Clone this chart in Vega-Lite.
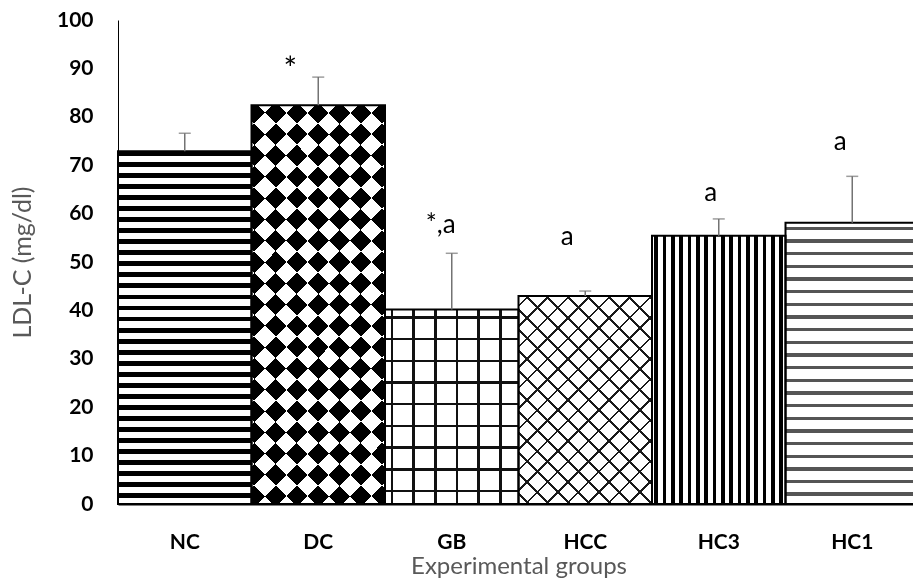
{
  "$schema": "https://vega.github.io/schema/vega-lite/v6.json",
  "width": 795,
  "height": 484,
  "autosize": {"type": "none"},
  "padding": {"left": 118, "top": 20, "right": 0, "bottom": 75},
  "background": "white",
  "config": {"view": {"stroke": null}, "font": "Lato"},
  "data": {"values": [
    {"group": "NC", "value": 72.9, "err": 76.6, "label": ""},
    {"group": "DC", "value": 82.4, "err": 88.2, "label": "*"},
    {"group": "GB", "value": 40.2, "err": 51.8, "label": "*,a"},
    {"group": "HCC", "value": 43.0, "err": 44.0, "label": "a"},
    {"group": "HC3", "value": 55.4, "err": 58.9, "label": "a"},
    {"group": "HC1", "value": 58.1, "err": 67.7, "label": "a"}
  ]},
  "encoding": {
    "x": {
      "field": "group", "type": "nominal", "sort": null,
      "scale": {"paddingInner": 0, "paddingOuter": 0, "range": [0, 801]},
      "axis": {
        "title": "Experimental groups", "titleFont": "Lato", "titleFontSize": 24, "titleFontWeight": "normal",
        "titleColor": "#595959", "titleY": 69, "titleBaseline": "alphabetic",
        "labelFont": "Lato", "labelFontSize": 21, "labelFontWeight": "bold", "labelColor": "#000",
        "labelAngle": 0, "labelBaseline": "alphabetic", "labelPadding": 44,
        "ticks": false, "domain": true, "domainColor": "#000", "domainWidth": 2, "grid": false
      }
    },
    "y": {
      "field": "value", "type": "quantitative",
      "scale": {"domain": [0, 100]},
      "axis": {
        "title": "LDL-C (mg/dl)", "titleFont": "Lato", "titleFontSize": 25, "titleFontWeight": "normal",
        "titleColor": "#595959", "titleX": -83,
        "values": [0, 10, 20, 30, 40, 50, 60, 70, 80, 90, 100],
        "labelFont": "Lato", "labelFontSize": 21, "labelFontWeight": "bold", "labelColor": "#000",
        "labelPadding": 25, "ticks": false, "grid": false, "domain": true, "domainColor": "#000", "domainWidth": 1
      }
    }
  },
  "layer": [
    {
      "transform": [{"filter": "datum.group == 'NC'"}],
      "mark": {"type": "bar", "fill": {"gradient": "linear", "x1": 0, "y1": 0, "x2": 0, "y2": 1, "stops": [
        {"offset": 0, "color": "#000"}, {"offset": 0.014, "color": "#000"}, {"offset": 0.014, "color": "#fff"}, {"offset": 0.03125, "color": "#fff"},
        {"offset": 0.03125, "color": "#000"}, {"offset": 0.04525, "color": "#000"}, {"offset": 0.04525, "color": "#fff"}, {"offset": 0.0625, "color": "#fff"},
        {"offset": 0.0625, "color": "#000"}, {"offset": 0.0765, "color": "#000"}, {"offset": 0.0765, "color": "#fff"}, {"offset": 0.09375, "color": "#fff"},
        {"offset": 0.09375, "color": "#000"}, {"offset": 0.10775, "color": "#000"}, {"offset": 0.10775, "color": "#fff"}, {"offset": 0.125, "color": "#fff"},
        {"offset": 0.125, "color": "#000"}, {"offset": 0.139, "color": "#000"}, {"offset": 0.139, "color": "#fff"}, {"offset": 0.15625, "color": "#fff"},
        {"offset": 0.15625, "color": "#000"}, {"offset": 0.17025, "color": "#000"}, {"offset": 0.17025, "color": "#fff"}, {"offset": 0.1875, "color": "#fff"},
        {"offset": 0.1875, "color": "#000"}, {"offset": 0.2015, "color": "#000"}, {"offset": 0.2015, "color": "#fff"}, {"offset": 0.21875, "color": "#fff"},
        {"offset": 0.21875, "color": "#000"}, {"offset": 0.23275, "color": "#000"}, {"offset": 0.23275, "color": "#fff"}, {"offset": 0.25, "color": "#fff"},
        {"offset": 0.25, "color": "#000"}, {"offset": 0.264, "color": "#000"}, {"offset": 0.264, "color": "#fff"}, {"offset": 0.28125, "color": "#fff"},
        {"offset": 0.28125, "color": "#000"}, {"offset": 0.29525, "color": "#000"}, {"offset": 0.29525, "color": "#fff"}, {"offset": 0.3125, "color": "#fff"},
        {"offset": 0.3125, "color": "#000"}, {"offset": 0.3265, "color": "#000"}, {"offset": 0.3265, "color": "#fff"}, {"offset": 0.34375, "color": "#fff"},
        {"offset": 0.34375, "color": "#000"}, {"offset": 0.35775, "color": "#000"}, {"offset": 0.35775, "color": "#fff"}, {"offset": 0.375, "color": "#fff"},
        {"offset": 0.375, "color": "#000"}, {"offset": 0.389, "color": "#000"}, {"offset": 0.389, "color": "#fff"}, {"offset": 0.40625, "color": "#fff"},
        {"offset": 0.40625, "color": "#000"}, {"offset": 0.42025, "color": "#000"}, {"offset": 0.42025, "color": "#fff"}, {"offset": 0.4375, "color": "#fff"},
        {"offset": 0.4375, "color": "#000"}, {"offset": 0.4515, "color": "#000"}, {"offset": 0.4515, "color": "#fff"}, {"offset": 0.46875, "color": "#fff"},
        {"offset": 0.46875, "color": "#000"}, {"offset": 0.48275, "color": "#000"}, {"offset": 0.48275, "color": "#fff"}, {"offset": 0.5, "color": "#fff"},
        {"offset": 0.5, "color": "#000"}, {"offset": 0.514, "color": "#000"}, {"offset": 0.514, "color": "#fff"}, {"offset": 0.53125, "color": "#fff"},
        {"offset": 0.53125, "color": "#000"}, {"offset": 0.54525, "color": "#000"}, {"offset": 0.54525, "color": "#fff"}, {"offset": 0.5625, "color": "#fff"},
        {"offset": 0.5625, "color": "#000"}, {"offset": 0.5765, "color": "#000"}, {"offset": 0.5765, "color": "#fff"}, {"offset": 0.59375, "color": "#fff"},
        {"offset": 0.59375, "color": "#000"}, {"offset": 0.60775, "color": "#000"}, {"offset": 0.60775, "color": "#fff"}, {"offset": 0.625, "color": "#fff"},
        {"offset": 0.625, "color": "#000"}, {"offset": 0.639, "color": "#000"}, {"offset": 0.639, "color": "#fff"}, {"offset": 0.65625, "color": "#fff"},
        {"offset": 0.65625, "color": "#000"}, {"offset": 0.67025, "color": "#000"}, {"offset": 0.67025, "color": "#fff"}, {"offset": 0.6875, "color": "#fff"},
        {"offset": 0.6875, "color": "#000"}, {"offset": 0.7015, "color": "#000"}, {"offset": 0.7015, "color": "#fff"}, {"offset": 0.71875, "color": "#fff"},
        {"offset": 0.71875, "color": "#000"}, {"offset": 0.73275, "color": "#000"}, {"offset": 0.73275, "color": "#fff"}, {"offset": 0.75, "color": "#fff"},
        {"offset": 0.75, "color": "#000"}, {"offset": 0.764, "color": "#000"}, {"offset": 0.764, "color": "#fff"}, {"offset": 0.78125, "color": "#fff"},
        {"offset": 0.78125, "color": "#000"}, {"offset": 0.79525, "color": "#000"}, {"offset": 0.79525, "color": "#fff"}, {"offset": 0.8125, "color": "#fff"},
        {"offset": 0.8125, "color": "#000"}, {"offset": 0.8265, "color": "#000"}, {"offset": 0.8265, "color": "#fff"}, {"offset": 0.84375, "color": "#fff"},
        {"offset": 0.84375, "color": "#000"}, {"offset": 0.85775, "color": "#000"}, {"offset": 0.85775, "color": "#fff"}, {"offset": 0.875, "color": "#fff"},
        {"offset": 0.875, "color": "#000"}, {"offset": 0.889, "color": "#000"}, {"offset": 0.889, "color": "#fff"}, {"offset": 0.90625, "color": "#fff"},
        {"offset": 0.90625, "color": "#000"}, {"offset": 0.92025, "color": "#000"}, {"offset": 0.92025, "color": "#fff"}, {"offset": 0.9375, "color": "#fff"},
        {"offset": 0.9375, "color": "#000"}, {"offset": 0.9515, "color": "#000"}, {"offset": 0.9515, "color": "#fff"}, {"offset": 0.96875, "color": "#fff"},
        {"offset": 0.96875, "color": "#000"}, {"offset": 0.98275, "color": "#000"}, {"offset": 0.98275, "color": "#fff"}, {"offset": 1, "color": "#fff"}
      ]}}
    },
    {
      "transform": [{"filter": "datum.group == 'DC'"}],
      "mark": {"type": "bar", "fill": {"gradient": "linear", "x1": 0, "y1": 0, "x2": 0.402, "y2": 1.2, "stops": [
        {"offset": 0, "color": "#000"}, {"offset": 0.04, "color": "#000"}, {"offset": 0.04, "color": "#fff"}, {"offset": 0.08, "color": "#fff"},
        {"offset": 0.08, "color": "#000"}, {"offset": 0.12, "color": "#000"}, {"offset": 0.12, "color": "#fff"}, {"offset": 0.16, "color": "#fff"},
        {"offset": 0.16, "color": "#000"}, {"offset": 0.2, "color": "#000"}, {"offset": 0.2, "color": "#fff"}, {"offset": 0.24, "color": "#fff"},
        {"offset": 0.24, "color": "#000"}, {"offset": 0.28, "color": "#000"}, {"offset": 0.28, "color": "#fff"}, {"offset": 0.32, "color": "#fff"},
        {"offset": 0.32, "color": "#000"}, {"offset": 0.36, "color": "#000"}, {"offset": 0.36, "color": "#fff"}, {"offset": 0.4, "color": "#fff"},
        {"offset": 0.4, "color": "#000"}, {"offset": 0.44, "color": "#000"}, {"offset": 0.44, "color": "#fff"}, {"offset": 0.48, "color": "#fff"},
        {"offset": 0.48, "color": "#000"}, {"offset": 0.52, "color": "#000"}, {"offset": 0.52, "color": "#fff"}, {"offset": 0.56, "color": "#fff"},
        {"offset": 0.56, "color": "#000"}, {"offset": 0.6, "color": "#000"}, {"offset": 0.6, "color": "#fff"}, {"offset": 0.64, "color": "#fff"},
        {"offset": 0.64, "color": "#000"}, {"offset": 0.68, "color": "#000"}, {"offset": 0.68, "color": "#fff"}, {"offset": 0.72, "color": "#fff"},
        {"offset": 0.72, "color": "#000"}, {"offset": 0.76, "color": "#000"}, {"offset": 0.76, "color": "#fff"}, {"offset": 0.8, "color": "#fff"},
        {"offset": 0.8, "color": "#000"}, {"offset": 0.84, "color": "#000"}, {"offset": 0.84, "color": "#fff"}, {"offset": 0.88, "color": "#fff"},
        {"offset": 0.88, "color": "#000"}, {"offset": 0.92, "color": "#000"}, {"offset": 0.92, "color": "#fff"}, {"offset": 0.96, "color": "#fff"},
        {"offset": 0.96, "color": "#000"}, {"offset": 1, "color": "#000"}
      ]}}
    },
    {
      "transform": [{"filter": "datum.group == 'DC'"}],
      "mark": {"type": "bar", "blend": "difference", "fill": {"gradient": "linear", "x1": 0, "y1": 1, "x2": 0.402, "y2": -0.2, "stops": [
        {"offset": 0, "color": "#000"}, {"offset": 0.04, "color": "#000"}, {"offset": 0.04, "color": "#fff"}, {"offset": 0.08, "color": "#fff"},
        {"offset": 0.08, "color": "#000"}, {"offset": 0.12, "color": "#000"}, {"offset": 0.12, "color": "#fff"}, {"offset": 0.16, "color": "#fff"},
        {"offset": 0.16, "color": "#000"}, {"offset": 0.2, "color": "#000"}, {"offset": 0.2, "color": "#fff"}, {"offset": 0.24, "color": "#fff"},
        {"offset": 0.24, "color": "#000"}, {"offset": 0.28, "color": "#000"}, {"offset": 0.28, "color": "#fff"}, {"offset": 0.32, "color": "#fff"},
        {"offset": 0.32, "color": "#000"}, {"offset": 0.36, "color": "#000"}, {"offset": 0.36, "color": "#fff"}, {"offset": 0.4, "color": "#fff"},
        {"offset": 0.4, "color": "#000"}, {"offset": 0.44, "color": "#000"}, {"offset": 0.44, "color": "#fff"}, {"offset": 0.48, "color": "#fff"},
        {"offset": 0.48, "color": "#000"}, {"offset": 0.52, "color": "#000"}, {"offset": 0.52, "color": "#fff"}, {"offset": 0.56, "color": "#fff"},
        {"offset": 0.56, "color": "#000"}, {"offset": 0.6, "color": "#000"}, {"offset": 0.6, "color": "#fff"}, {"offset": 0.64, "color": "#fff"},
        {"offset": 0.64, "color": "#000"}, {"offset": 0.68, "color": "#000"}, {"offset": 0.68, "color": "#fff"}, {"offset": 0.72, "color": "#fff"},
        {"offset": 0.72, "color": "#000"}, {"offset": 0.76, "color": "#000"}, {"offset": 0.76, "color": "#fff"}, {"offset": 0.8, "color": "#fff"},
        {"offset": 0.8, "color": "#000"}, {"offset": 0.84, "color": "#000"}, {"offset": 0.84, "color": "#fff"}, {"offset": 0.88, "color": "#fff"},
        {"offset": 0.88, "color": "#000"}, {"offset": 0.92, "color": "#000"}, {"offset": 0.92, "color": "#fff"}, {"offset": 0.96, "color": "#fff"},
        {"offset": 0.96, "color": "#000"}, {"offset": 1, "color": "#000"}
      ]}}
    },
    {
      "transform": [{"filter": "datum.group == 'GB'"}],
      "mark": {"type": "bar", "fill": {"gradient": "linear", "x1": 0, "y1": 0, "x2": 1, "y2": 0, "stops": [
        {"offset": 0, "color": "#fff"}, {"offset": 0.0425, "color": "#fff"}, {"offset": 0.0425, "color": "#111"}, {"offset": 0.0615, "color": "#111"}, {"offset": 0.0615, "color": "#fff"},
        {"offset": 0.205, "color": "#fff"}, {"offset": 0.205, "color": "#111"}, {"offset": 0.224, "color": "#111"}, {"offset": 0.224, "color": "#fff"},
        {"offset": 0.3675, "color": "#fff"}, {"offset": 0.3675, "color": "#111"}, {"offset": 0.3865, "color": "#111"}, {"offset": 0.3865, "color": "#fff"},
        {"offset": 0.53, "color": "#fff"}, {"offset": 0.53, "color": "#111"}, {"offset": 0.549, "color": "#111"}, {"offset": 0.549, "color": "#fff"},
        {"offset": 0.6925, "color": "#fff"}, {"offset": 0.6925, "color": "#111"}, {"offset": 0.7115, "color": "#111"}, {"offset": 0.7115, "color": "#fff"},
        {"offset": 0.855, "color": "#fff"}, {"offset": 0.855, "color": "#111"}, {"offset": 0.874, "color": "#111"}, {"offset": 0.874, "color": "#fff"},
        {"offset": 1, "color": "#fff"}
      ]}}
    },
    {
      "transform": [{"filter": "datum.group == 'GB'"}],
      "mark": {"type": "bar", "fill": {"gradient": "linear", "x1": 0, "y1": 0, "x2": 0, "y2": 1, "stops": [
        {"offset": 0, "color": "rgba(0,0,0,0)"}, {"offset": 0.0347, "color": "rgba(0,0,0,0)"}, {"offset": 0.0347, "color": "#111"}, {"offset": 0.0475, "color": "#111"}, {"offset": 0.0475, "color": "rgba(0,0,0,0)"},
        {"offset": 0.1462, "color": "rgba(0,0,0,0)"}, {"offset": 0.1462, "color": "#111"}, {"offset": 0.159, "color": "#111"}, {"offset": 0.159, "color": "rgba(0,0,0,0)"},
        {"offset": 0.2577, "color": "rgba(0,0,0,0)"}, {"offset": 0.2577, "color": "#111"}, {"offset": 0.2705, "color": "#111"}, {"offset": 0.2705, "color": "rgba(0,0,0,0)"},
        {"offset": 0.3692, "color": "rgba(0,0,0,0)"}, {"offset": 0.3692, "color": "#111"}, {"offset": 0.382, "color": "#111"}, {"offset": 0.382, "color": "rgba(0,0,0,0)"},
        {"offset": 0.4807, "color": "rgba(0,0,0,0)"}, {"offset": 0.4807, "color": "#111"}, {"offset": 0.4935, "color": "#111"}, {"offset": 0.4935, "color": "rgba(0,0,0,0)"},
        {"offset": 0.5923, "color": "rgba(0,0,0,0)"}, {"offset": 0.5923, "color": "#111"}, {"offset": 0.6051, "color": "#111"}, {"offset": 0.6051, "color": "rgba(0,0,0,0)"},
        {"offset": 0.7038, "color": "rgba(0,0,0,0)"}, {"offset": 0.7038, "color": "#111"}, {"offset": 0.7166, "color": "#111"}, {"offset": 0.7166, "color": "rgba(0,0,0,0)"},
        {"offset": 0.8153, "color": "rgba(0,0,0,0)"}, {"offset": 0.8153, "color": "#111"}, {"offset": 0.8281, "color": "#111"}, {"offset": 0.8281, "color": "rgba(0,0,0,0)"},
        {"offset": 0.9268, "color": "rgba(0,0,0,0)"}, {"offset": 0.9268, "color": "#111"}, {"offset": 0.9396, "color": "#111"}, {"offset": 0.9396, "color": "rgba(0,0,0,0)"},
        {"offset": 1, "color": "rgba(0,0,0,0)"}
      ]}}
    },
    {
      "transform": [{"filter": "datum.group == 'HCC'"}],
      "mark": {"type": "bar", "fill": {"gradient": "linear", "x1": 0, "y1": 0, "x2": 0.746, "y2": 1.163, "stops": [
        {"offset": 0, "color": "#fff"},
        {"offset": 0.026, "color": "#fff"}, {"offset": 0.026, "color": "#1a1a1a"}, {"offset": 0.034, "color": "#1a1a1a"}, {"offset": 0.034, "color": "#fff"},
        {"offset": 0.086, "color": "#fff"}, {"offset": 0.086, "color": "#1a1a1a"}, {"offset": 0.094, "color": "#1a1a1a"}, {"offset": 0.094, "color": "#fff"},
        {"offset": 0.146, "color": "#fff"}, {"offset": 0.146, "color": "#1a1a1a"}, {"offset": 0.154, "color": "#1a1a1a"}, {"offset": 0.154, "color": "#fff"},
        {"offset": 0.206, "color": "#fff"}, {"offset": 0.206, "color": "#1a1a1a"}, {"offset": 0.214, "color": "#1a1a1a"}, {"offset": 0.214, "color": "#fff"},
        {"offset": 0.266, "color": "#fff"}, {"offset": 0.266, "color": "#1a1a1a"}, {"offset": 0.274, "color": "#1a1a1a"}, {"offset": 0.274, "color": "#fff"},
        {"offset": 0.326, "color": "#fff"}, {"offset": 0.326, "color": "#1a1a1a"}, {"offset": 0.334, "color": "#1a1a1a"}, {"offset": 0.334, "color": "#fff"},
        {"offset": 0.386, "color": "#fff"}, {"offset": 0.386, "color": "#1a1a1a"}, {"offset": 0.394, "color": "#1a1a1a"}, {"offset": 0.394, "color": "#fff"},
        {"offset": 0.446, "color": "#fff"}, {"offset": 0.446, "color": "#1a1a1a"}, {"offset": 0.454, "color": "#1a1a1a"}, {"offset": 0.454, "color": "#fff"},
        {"offset": 0.506, "color": "#fff"}, {"offset": 0.506, "color": "#1a1a1a"}, {"offset": 0.514, "color": "#1a1a1a"}, {"offset": 0.514, "color": "#fff"},
        {"offset": 0.566, "color": "#fff"}, {"offset": 0.566, "color": "#1a1a1a"}, {"offset": 0.574, "color": "#1a1a1a"}, {"offset": 0.574, "color": "#fff"},
        {"offset": 0.626, "color": "#fff"}, {"offset": 0.626, "color": "#1a1a1a"}, {"offset": 0.634, "color": "#1a1a1a"}, {"offset": 0.634, "color": "#fff"},
        {"offset": 0.686, "color": "#fff"}, {"offset": 0.686, "color": "#1a1a1a"}, {"offset": 0.694, "color": "#1a1a1a"}, {"offset": 0.694, "color": "#fff"},
        {"offset": 0.746, "color": "#fff"}, {"offset": 0.746, "color": "#1a1a1a"}, {"offset": 0.754, "color": "#1a1a1a"}, {"offset": 0.754, "color": "#fff"},
        {"offset": 0.806, "color": "#fff"}, {"offset": 0.806, "color": "#1a1a1a"}, {"offset": 0.814, "color": "#1a1a1a"}, {"offset": 0.814, "color": "#fff"},
        {"offset": 0.866, "color": "#fff"}, {"offset": 0.866, "color": "#1a1a1a"}, {"offset": 0.874, "color": "#1a1a1a"}, {"offset": 0.874, "color": "#fff"},
        {"offset": 0.926, "color": "#fff"}, {"offset": 0.926, "color": "#1a1a1a"}, {"offset": 0.934, "color": "#1a1a1a"}, {"offset": 0.934, "color": "#fff"},
        {"offset": 0.986, "color": "#fff"}, {"offset": 0.986, "color": "#1a1a1a"}, {"offset": 0.994, "color": "#1a1a1a"}, {"offset": 0.994, "color": "#fff"},
        {"offset": 1, "color": "#fff"}
      ]}}
    },
    {
      "transform": [{"filter": "datum.group == 'HCC'"}],
      "mark": {"type": "bar", "fill": {"gradient": "linear", "x1": 0, "y1": 1, "x2": 0.746, "y2": -0.163, "stops": [
        {"offset": 0, "color": "rgba(0,0,0,0)"},
        {"offset": 0.026, "color": "rgba(0,0,0,0)"}, {"offset": 0.026, "color": "#1a1a1a"}, {"offset": 0.034, "color": "#1a1a1a"}, {"offset": 0.034, "color": "rgba(0,0,0,0)"},
        {"offset": 0.086, "color": "rgba(0,0,0,0)"}, {"offset": 0.086, "color": "#1a1a1a"}, {"offset": 0.094, "color": "#1a1a1a"}, {"offset": 0.094, "color": "rgba(0,0,0,0)"},
        {"offset": 0.146, "color": "rgba(0,0,0,0)"}, {"offset": 0.146, "color": "#1a1a1a"}, {"offset": 0.154, "color": "#1a1a1a"}, {"offset": 0.154, "color": "rgba(0,0,0,0)"},
        {"offset": 0.206, "color": "rgba(0,0,0,0)"}, {"offset": 0.206, "color": "#1a1a1a"}, {"offset": 0.214, "color": "#1a1a1a"}, {"offset": 0.214, "color": "rgba(0,0,0,0)"},
        {"offset": 0.266, "color": "rgba(0,0,0,0)"}, {"offset": 0.266, "color": "#1a1a1a"}, {"offset": 0.274, "color": "#1a1a1a"}, {"offset": 0.274, "color": "rgba(0,0,0,0)"},
        {"offset": 0.326, "color": "rgba(0,0,0,0)"}, {"offset": 0.326, "color": "#1a1a1a"}, {"offset": 0.334, "color": "#1a1a1a"}, {"offset": 0.334, "color": "rgba(0,0,0,0)"},
        {"offset": 0.386, "color": "rgba(0,0,0,0)"}, {"offset": 0.386, "color": "#1a1a1a"}, {"offset": 0.394, "color": "#1a1a1a"}, {"offset": 0.394, "color": "rgba(0,0,0,0)"},
        {"offset": 0.446, "color": "rgba(0,0,0,0)"}, {"offset": 0.446, "color": "#1a1a1a"}, {"offset": 0.454, "color": "#1a1a1a"}, {"offset": 0.454, "color": "rgba(0,0,0,0)"},
        {"offset": 0.506, "color": "rgba(0,0,0,0)"}, {"offset": 0.506, "color": "#1a1a1a"}, {"offset": 0.514, "color": "#1a1a1a"}, {"offset": 0.514, "color": "rgba(0,0,0,0)"},
        {"offset": 0.566, "color": "rgba(0,0,0,0)"}, {"offset": 0.566, "color": "#1a1a1a"}, {"offset": 0.574, "color": "#1a1a1a"}, {"offset": 0.574, "color": "rgba(0,0,0,0)"},
        {"offset": 0.626, "color": "rgba(0,0,0,0)"}, {"offset": 0.626, "color": "#1a1a1a"}, {"offset": 0.634, "color": "#1a1a1a"}, {"offset": 0.634, "color": "rgba(0,0,0,0)"},
        {"offset": 0.686, "color": "rgba(0,0,0,0)"}, {"offset": 0.686, "color": "#1a1a1a"}, {"offset": 0.694, "color": "#1a1a1a"}, {"offset": 0.694, "color": "rgba(0,0,0,0)"},
        {"offset": 0.746, "color": "rgba(0,0,0,0)"}, {"offset": 0.746, "color": "#1a1a1a"}, {"offset": 0.754, "color": "#1a1a1a"}, {"offset": 0.754, "color": "rgba(0,0,0,0)"},
        {"offset": 0.806, "color": "rgba(0,0,0,0)"}, {"offset": 0.806, "color": "#1a1a1a"}, {"offset": 0.814, "color": "#1a1a1a"}, {"offset": 0.814, "color": "rgba(0,0,0,0)"},
        {"offset": 0.866, "color": "rgba(0,0,0,0)"}, {"offset": 0.866, "color": "#1a1a1a"}, {"offset": 0.874, "color": "#1a1a1a"}, {"offset": 0.874, "color": "rgba(0,0,0,0)"},
        {"offset": 0.926, "color": "rgba(0,0,0,0)"}, {"offset": 0.926, "color": "#1a1a1a"}, {"offset": 0.934, "color": "#1a1a1a"}, {"offset": 0.934, "color": "rgba(0,0,0,0)"},
        {"offset": 0.986, "color": "rgba(0,0,0,0)"}, {"offset": 0.986, "color": "#1a1a1a"}, {"offset": 0.994, "color": "#1a1a1a"}, {"offset": 0.994, "color": "rgba(0,0,0,0)"},
        {"offset": 1, "color": "rgba(0,0,0,0)"}
      ]}}
    },
    {
      "transform": [{"filter": "datum.group == 'HC3'"}],
      "mark": {"type": "bar", "fill": {"gradient": "linear", "x1": 0, "y1": 0, "x2": 1, "y2": 0, "stops": [
        {"offset": 0, "color": "#fff"},
        {"offset": 0.017, "color": "#fff"}, {"offset": 0.017, "color": "#000"}, {"offset": 0.045, "color": "#000"}, {"offset": 0.045, "color": "#fff"},
        {"offset": 0.0795, "color": "#fff"}, {"offset": 0.0795, "color": "#000"}, {"offset": 0.1075, "color": "#000"}, {"offset": 0.1075, "color": "#fff"},
        {"offset": 0.142, "color": "#fff"}, {"offset": 0.142, "color": "#000"}, {"offset": 0.17, "color": "#000"}, {"offset": 0.17, "color": "#fff"},
        {"offset": 0.2045, "color": "#fff"}, {"offset": 0.2045, "color": "#000"}, {"offset": 0.2325, "color": "#000"}, {"offset": 0.2325, "color": "#fff"},
        {"offset": 0.267, "color": "#fff"}, {"offset": 0.267, "color": "#000"}, {"offset": 0.295, "color": "#000"}, {"offset": 0.295, "color": "#fff"},
        {"offset": 0.3295, "color": "#fff"}, {"offset": 0.3295, "color": "#000"}, {"offset": 0.3575, "color": "#000"}, {"offset": 0.3575, "color": "#fff"},
        {"offset": 0.392, "color": "#fff"}, {"offset": 0.392, "color": "#000"}, {"offset": 0.42, "color": "#000"}, {"offset": 0.42, "color": "#fff"},
        {"offset": 0.4545, "color": "#fff"}, {"offset": 0.4545, "color": "#000"}, {"offset": 0.4825, "color": "#000"}, {"offset": 0.4825, "color": "#fff"},
        {"offset": 0.517, "color": "#fff"}, {"offset": 0.517, "color": "#000"}, {"offset": 0.545, "color": "#000"}, {"offset": 0.545, "color": "#fff"},
        {"offset": 0.5795, "color": "#fff"}, {"offset": 0.5795, "color": "#000"}, {"offset": 0.6075, "color": "#000"}, {"offset": 0.6075, "color": "#fff"},
        {"offset": 0.642, "color": "#fff"}, {"offset": 0.642, "color": "#000"}, {"offset": 0.67, "color": "#000"}, {"offset": 0.67, "color": "#fff"},
        {"offset": 0.7045, "color": "#fff"}, {"offset": 0.7045, "color": "#000"}, {"offset": 0.7325, "color": "#000"}, {"offset": 0.7325, "color": "#fff"},
        {"offset": 0.767, "color": "#fff"}, {"offset": 0.767, "color": "#000"}, {"offset": 0.795, "color": "#000"}, {"offset": 0.795, "color": "#fff"},
        {"offset": 0.8295, "color": "#fff"}, {"offset": 0.8295, "color": "#000"}, {"offset": 0.8575, "color": "#000"}, {"offset": 0.8575, "color": "#fff"},
        {"offset": 0.892, "color": "#fff"}, {"offset": 0.892, "color": "#000"}, {"offset": 0.92, "color": "#000"}, {"offset": 0.92, "color": "#fff"},
        {"offset": 0.9545, "color": "#fff"}, {"offset": 0.9545, "color": "#000"}, {"offset": 0.9825, "color": "#000"}, {"offset": 0.9825, "color": "#fff"},
        {"offset": 1, "color": "#fff"}
      ]}}
    },
    {
      "transform": [{"filter": "datum.group == 'HC1'"}],
      "mark": {"type": "bar", "fill": {"gradient": "linear", "x1": 0, "y1": 0, "x2": 0, "y2": 1, "stops": [
        {"offset": 0, "color": "#fff"},
        {"offset": 0.014, "color": "#fff"}, {"offset": 0.014, "color": "#555"}, {"offset": 0.026, "color": "#555"}, {"offset": 0.026, "color": "#fff"},
        {"offset": 0.059, "color": "#fff"}, {"offset": 0.059, "color": "#555"}, {"offset": 0.071, "color": "#555"}, {"offset": 0.071, "color": "#fff"},
        {"offset": 0.104, "color": "#fff"}, {"offset": 0.104, "color": "#555"}, {"offset": 0.116, "color": "#555"}, {"offset": 0.116, "color": "#fff"},
        {"offset": 0.149, "color": "#fff"}, {"offset": 0.149, "color": "#555"}, {"offset": 0.161, "color": "#555"}, {"offset": 0.161, "color": "#fff"},
        {"offset": 0.194, "color": "#fff"}, {"offset": 0.194, "color": "#555"}, {"offset": 0.206, "color": "#555"}, {"offset": 0.206, "color": "#fff"},
        {"offset": 0.239, "color": "#fff"}, {"offset": 0.239, "color": "#555"}, {"offset": 0.251, "color": "#555"}, {"offset": 0.251, "color": "#fff"},
        {"offset": 0.284, "color": "#fff"}, {"offset": 0.284, "color": "#555"}, {"offset": 0.296, "color": "#555"}, {"offset": 0.296, "color": "#fff"},
        {"offset": 0.329, "color": "#fff"}, {"offset": 0.329, "color": "#555"}, {"offset": 0.341, "color": "#555"}, {"offset": 0.341, "color": "#fff"},
        {"offset": 0.374, "color": "#fff"}, {"offset": 0.374, "color": "#555"}, {"offset": 0.386, "color": "#555"}, {"offset": 0.386, "color": "#fff"},
        {"offset": 0.419, "color": "#fff"}, {"offset": 0.419, "color": "#555"}, {"offset": 0.431, "color": "#555"}, {"offset": 0.431, "color": "#fff"},
        {"offset": 0.464, "color": "#fff"}, {"offset": 0.464, "color": "#555"}, {"offset": 0.476, "color": "#555"}, {"offset": 0.476, "color": "#fff"},
        {"offset": 0.509, "color": "#fff"}, {"offset": 0.509, "color": "#555"}, {"offset": 0.521, "color": "#555"}, {"offset": 0.521, "color": "#fff"},
        {"offset": 0.554, "color": "#fff"}, {"offset": 0.554, "color": "#555"}, {"offset": 0.566, "color": "#555"}, {"offset": 0.566, "color": "#fff"},
        {"offset": 0.599, "color": "#fff"}, {"offset": 0.599, "color": "#555"}, {"offset": 0.611, "color": "#555"}, {"offset": 0.611, "color": "#fff"},
        {"offset": 0.644, "color": "#fff"}, {"offset": 0.644, "color": "#555"}, {"offset": 0.656, "color": "#555"}, {"offset": 0.656, "color": "#fff"},
        {"offset": 0.689, "color": "#fff"}, {"offset": 0.689, "color": "#555"}, {"offset": 0.701, "color": "#555"}, {"offset": 0.701, "color": "#fff"},
        {"offset": 0.734, "color": "#fff"}, {"offset": 0.734, "color": "#555"}, {"offset": 0.746, "color": "#555"}, {"offset": 0.746, "color": "#fff"},
        {"offset": 0.779, "color": "#fff"}, {"offset": 0.779, "color": "#555"}, {"offset": 0.791, "color": "#555"}, {"offset": 0.791, "color": "#fff"},
        {"offset": 0.824, "color": "#fff"}, {"offset": 0.824, "color": "#555"}, {"offset": 0.836, "color": "#555"}, {"offset": 0.836, "color": "#fff"},
        {"offset": 0.869, "color": "#fff"}, {"offset": 0.869, "color": "#555"}, {"offset": 0.881, "color": "#555"}, {"offset": 0.881, "color": "#fff"},
        {"offset": 0.914, "color": "#fff"}, {"offset": 0.914, "color": "#555"}, {"offset": 0.926, "color": "#555"}, {"offset": 0.926, "color": "#fff"},
        {"offset": 0.959, "color": "#fff"}, {"offset": 0.959, "color": "#555"}, {"offset": 0.971, "color": "#555"}, {"offset": 0.971, "color": "#fff"},
        {"offset": 1, "color": "#fff"}
      ]}}
    },
    {
      "mark": {"type": "bar", "filled": false, "color": "#000", "strokeWidth": 2}
    },
    {
      "mark": {"type": "rule", "color": "#737373", "strokeWidth": 1.5},
      "encoding": {"y2": {"field": "err"}}
    },
    {
      "mark": {"type": "tick", "color": "#737373", "thickness": 1.5, "size": 12, "orient": "horizontal"},
      "encoding": {"y": {"field": "err", "type": "quantitative"}}
    },
    {
      "transform": [{"filter": "datum.group == 'DC'"}],
      "mark": {"type": "text", "dx": -28, "dy": 3, "baseline": "alphabetic", "fontSize": 32, "font": "Lato", "color": "#000"},
      "encoding": {"y": {"field": "err", "type": "quantitative"}, "text": {"field": "label"}}
    },
    {
      "transform": [{"filter": "datum.group == 'GB'"}],
      "mark": {"type": "text", "dx": -11, "dy": -20, "baseline": "alphabetic", "fontSize": 26, "font": "Lato", "color": "#000"},
      "encoding": {"y": {"field": "err", "type": "quantitative"}, "text": {"field": "label"}}
    },
    {
      "transform": [{"filter": "datum.group == 'HCC'"}],
      "mark": {"type": "text", "dx": -18, "dy": -46, "baseline": "alphabetic", "fontSize": 26, "font": "Lato", "color": "#000"},
      "encoding": {"y": {"field": "err", "type": "quantitative"}, "text": {"field": "label"}}
    },
    {
      "transform": [{"filter": "datum.group == 'HC3'"}],
      "mark": {"type": "text", "dx": -8, "dy": -18, "baseline": "alphabetic", "fontSize": 26, "font": "Lato", "color": "#000"},
      "encoding": {"y": {"field": "err", "type": "quantitative"}, "text": {"field": "label"}}
    },
    {
      "transform": [{"filter": "datum.group == 'HC1'"}],
      "mark": {"type": "text", "dx": -12, "dy": -26, "baseline": "alphabetic", "fontSize": 26, "font": "Lato", "color": "#000"},
      "encoding": {"y": {"field": "err", "type": "quantitative"}, "text": {"field": "label"}}
    }
  ]
}
